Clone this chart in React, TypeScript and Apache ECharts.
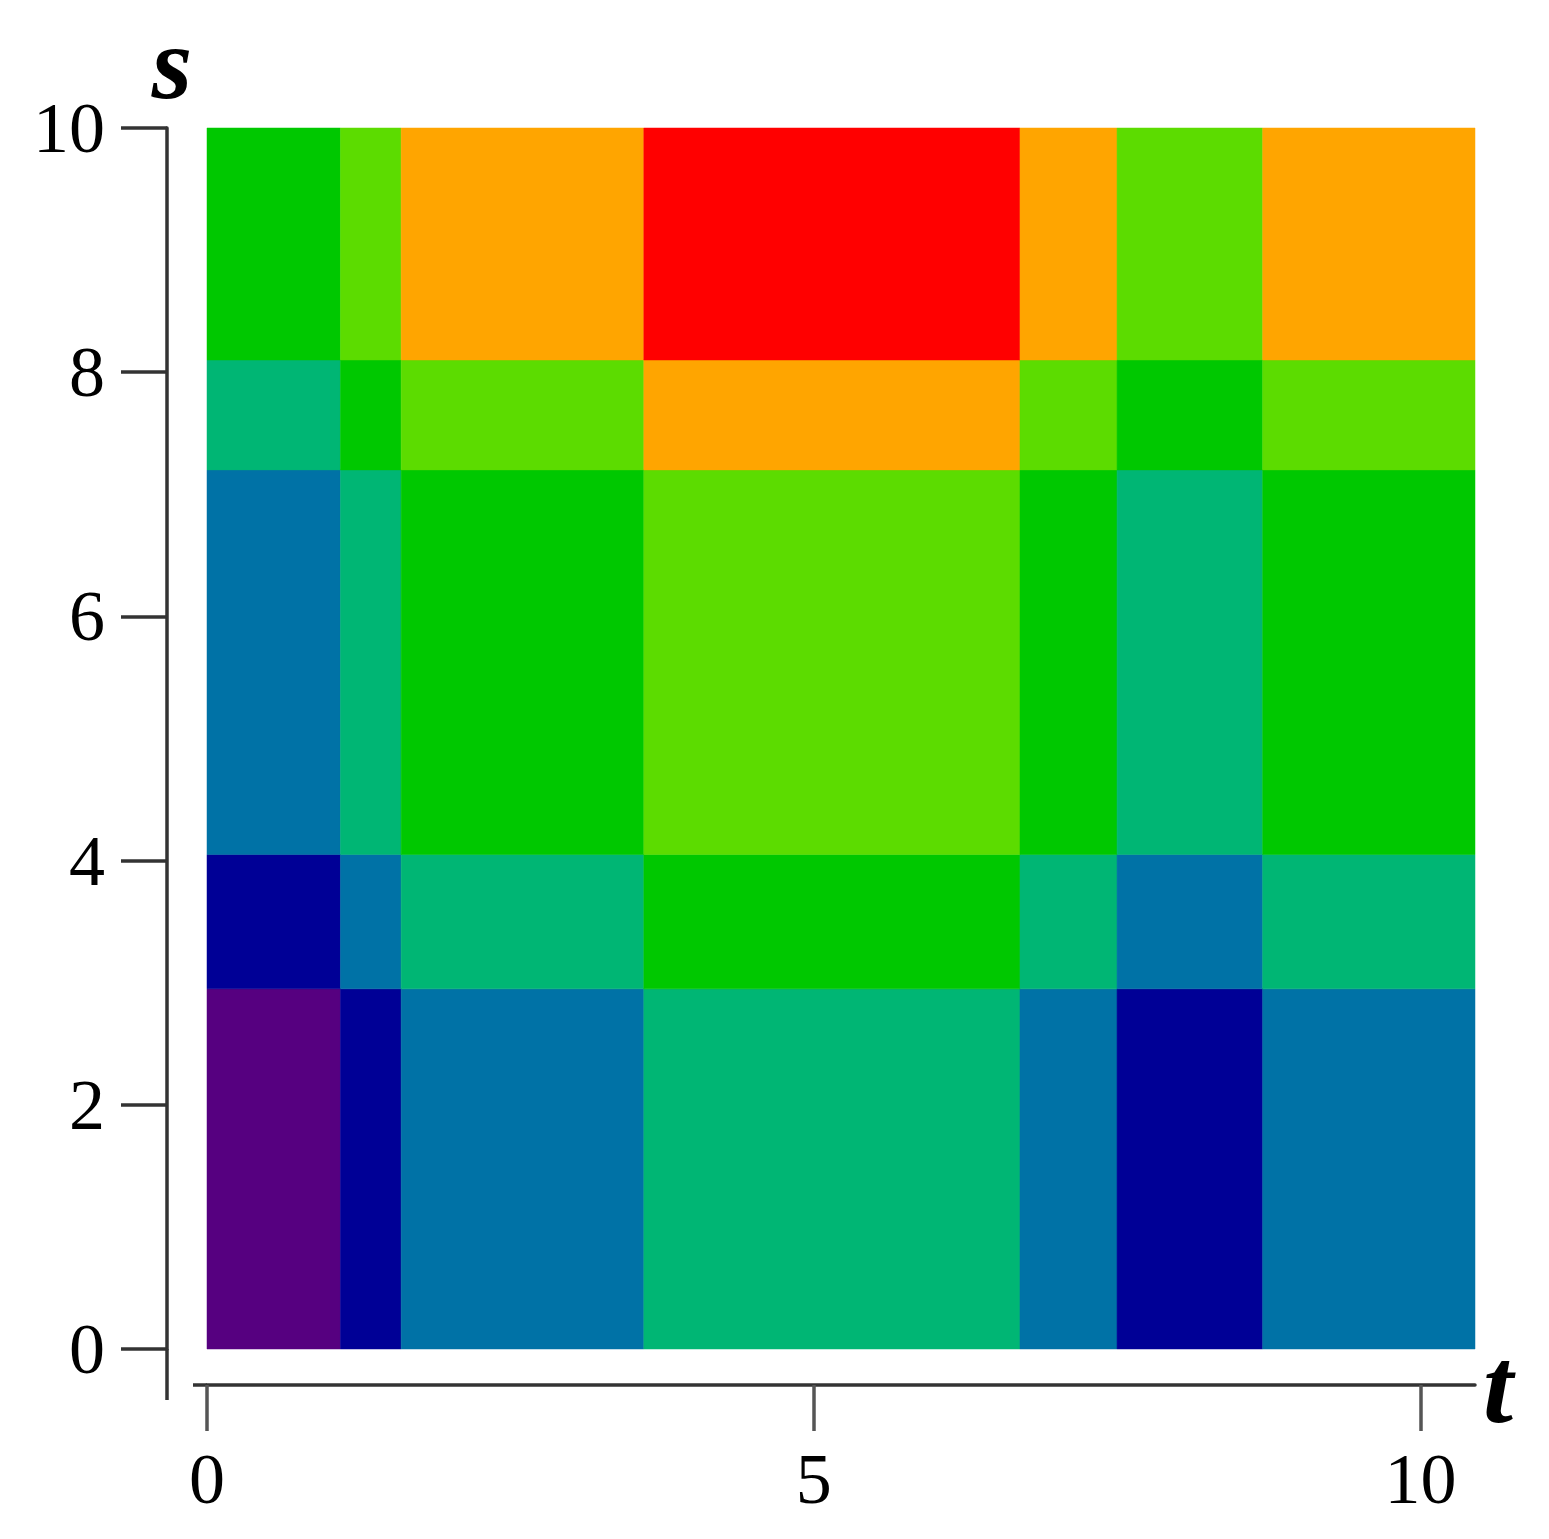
import React, { useEffect, useRef } from "react";
import * as echarts from "echarts";

// Block edges along t (x) and s (y)
const tBreaks = [0, 1.1, 1.6, 3.6, 6.7, 7.5, 8.7, 10.45];
const sBreaks = [0, 2.95, 4.05, 7.2, 8.1, 10];

// Level of each block, rows from bottom (s low) to top (s high), columns along t
const rowS0 = [1, 2, 3, 4, 3, 2, 3];
const rowS1 = [2, 3, 4, 5, 4, 3, 4];
const rowS2 = [3, 4, 5, 6, 5, 4, 5];
const rowS3 = [4, 5, 6, 7, 6, 5, 6];
const rowS4 = [5, 6, 7, 8, 7, 6, 7];
const rows = [rowS0, rowS1, rowS2, rowS3, rowS4];

// Colour of each level
const levels = [1, 2, 3, 4, 5, 6, 7, 8];
const levelColors = ["#560080", "#000096", "#0072A6", "#00B674", "#00C800", "#5CDC00", "#FFA500", "#FF0000"];

// Tick labels
const tTicks = [0, 5, 10];
const sTicks = [0, 2, 4, 6, 8, 10];

const FONT = "'Liberation Serif', 'Times New Roman', serif";

export default function App() {
  const ref = useRef<HTMLDivElement>(null);

  useEffect(() => {
    if (!ref.current) return;
    const chart = echarts.init(ref.current, undefined, { renderer: "svg" });

    const data: number[][] = [];
    rows.forEach((row, i) => {
      row.forEach((lv, j) => {
        data.push([tBreaks[j], tBreaks[j + 1], sBreaks[i], sBreaks[i + 1], lv]);
      });
    });

    const axisLineStyle = { color: "#333", width: 3.5 };

    const option: any = {
      animation: false,
      backgroundColor: "#ffffff",
      grid: {
        left: 207,
        top: 128,
        width: 1268,
        height: 1221,
        containLabel: false,
        outerBoundsMode: "none",
      },
      visualMap: {
        type: "piecewise",
        show: false,
        dimension: 4,
        seriesIndex: 0,
        pieces: levels.map((v, k) => ({ value: v, color: levelColors[k] })),
      },
      xAxis: {
        type: "value",
        min: tBreaks[0],
        max: tBreaks[tBreaks.length - 1],
        offset: 36,
        name: "t",
        nameLocation: "end",
        nameGap: 8,
        nameTextStyle: {
          fontFamily: FONT,
          fontSize: 108,
          fontWeight: "bold",
          fontStyle: "italic",
          color: "#000",
          verticalAlign: "middle",
        },
        axisLine: { show: true, onZero: false, lineStyle: axisLineStyle },
        axisTick: {
          show: true,
          inside: false,
          length: 46,
          customValues: tTicks,
          lineStyle: { color: "#555", width: 3.5 },
        },
        axisLabel: {
          show: true,
          customValues: tTicks,
          fontFamily: FONT,
          fontSize: 72,
          color: "#000",
          margin: 58,
        },
        splitLine: { show: false },
      },
      yAxis: {
        type: "value",
        min: 0,
        max: 10,
        interval: 2,
        offset: 40,
        name: "s",
        nameLocation: "end",
        nameGap: 24,
        nameTextStyle: {
          fontFamily: FONT,
          fontSize: 104,
          lineHeight: 84,
          fontWeight: "bold",
          fontStyle: "italic",
          color: "#000",
          padding: [0, 0, 0, 10],
        },
        axisLine: { show: true, onZero: false, lineStyle: axisLineStyle },
        axisTick: {
          show: true,
          inside: false,
          length: 46,
          customValues: sTicks,
          lineStyle: { color: "#333", width: 3.5 },
        },
        axisLabel: {
          show: true,
          customValues: sTicks,
          fontFamily: FONT,
          fontSize: 72,
          color: "#000",
          margin: 62,
        },
        splitLine: { show: false },
      },
      graphic: [
        {
          type: "line",
          shape: { x1: 167, y1: 1349, x2: 167, y2: 1400 },
          style: { stroke: "#333", lineWidth: 3.5 },
          silent: true,
        },
        {
          type: "line",
          shape: { x1: 193, y1: 1385, x2: 207, y2: 1385 },
          style: { stroke: "#333", lineWidth: 3.5 },
          silent: true,
        },
      ],
      series: [
        {
          type: "custom",
          data,
          encode: { x: [0, 1], y: [2, 3] },
          renderItem: (params: any, api: any) => {
            const p0 = api.coord([api.value(0), api.value(3)]);
            const p1 = api.coord([api.value(1), api.value(2)]);
            return {
              type: "rect",
              shape: { x: p0[0], y: p0[1], width: p1[0] - p0[0], height: p1[1] - p0[1] },
              style: { fill: api.visual("color"), stroke: api.visual("color"), lineWidth: 0.5 },
            };
          },
        },
      ],
    };

    chart.setOption(option);
    return () => chart.dispose();
  }, []);

  return (
    <div
      ref={ref}
      style={{ position: "fixed", left: 0, top: 0, width: 1549, height: 1539, background: "#fff" }}
    />
  );
}
